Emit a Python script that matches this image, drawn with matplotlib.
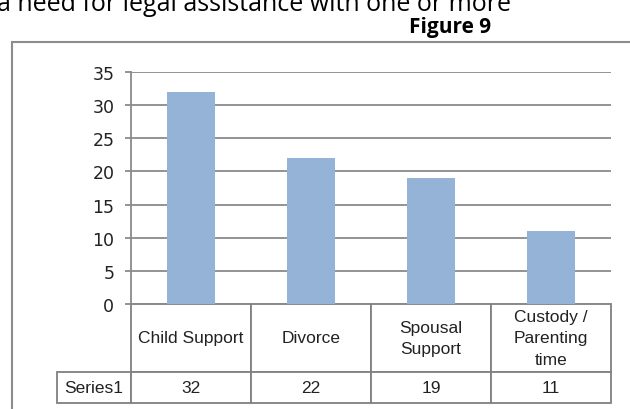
import matplotlib.pyplot as plt
from matplotlib.patches import Rectangle

categories = ['Child Support', 'Divorce', 'Spousal\nSupport', 'Custody /\nParenting\ntime']
values = [32, 22, 19, 11]
series_name = 'Series1'
yticks = [0, 5, 10, 15, 20, 25, 30, 35]

W, H = 630, 410
fig = plt.figure(figsize=(W / 100, H / 100), dpi=100)

# page text above the chart (cut off at the top in the original)
fig.text(-0.004, 1 - 11 / H, 'a need for legal assistance with one or more',
         fontsize=18, family='Open Sans', va='baseline', ha='left')
fig.text(491 / W, 1 - 33 / H, 'Figure 9', fontsize=15, family='Open Sans',
         weight='bold', va='baseline', ha='right')

# outer chart frame
fig.patches.append(Rectangle((12 / W, -0.1), 1.0, (1 - 43 / H) + 0.1,
                             transform=fig.transFigure, fill=False,
                             ec='#8c8c8c', lw=1.5))

ax_w, ax_h = 480, 232
ax = fig.add_axes([131 / W, 1 - 305 / H, ax_w / W, ax_h / H])
x = list(range(len(values)))
ax.bar(x, values, width=0.4, color='#95b3d7', zorder=3)

ax.set_xlim(-0.5, len(values) - 0.5)
ax.set_ylim(0, 35)
ax.set_yticks(yticks)
ax.set_xticks([])
ax.yaxis.grid(True, color='#8a8a8a', lw=1.3)
ax.set_axisbelow(True)
for s in ['top', 'right', 'bottom']:
    ax.spines[s].set_visible(False)
ax.spines['left'].set_color('#8a8a8a')
ax.spines['left'].set_linewidth(1.3)
ax.tick_params(axis='y', length=4.5, width=1.3, color='#8a8a8a', pad=7.5,
               labelsize=12.5, labelcolor='#222222')

# data table under the axis: header row of categories, one row of values
tbl = ax.table(cellText=[[str(v) for v in values]], colLabels=categories,
               cellLoc='center', colWidths=[1 / len(values)] * len(values),
               loc='bottom')
tbl.add_cell(1, -1, width=74 / ax_w, height=31 / ax_h, text=series_name,
             loc='center')
tbl.auto_set_font_size(False)
for (r, c), cell in tbl.get_celld().items():
    cell.set_height((68 if r == 0 else 31) / ax_h)
    cell.set_edgecolor('#808080')
    cell.set_linewidth(1.3)
    txt = cell.get_text()
    txt.set_fontfamily('Liberation Sans')
    txt.set_fontsize(12.5)
    txt.set_color('#222222')
    txt.set_linespacing(1.55)

fig.savefig('out.png', dpi=100)
